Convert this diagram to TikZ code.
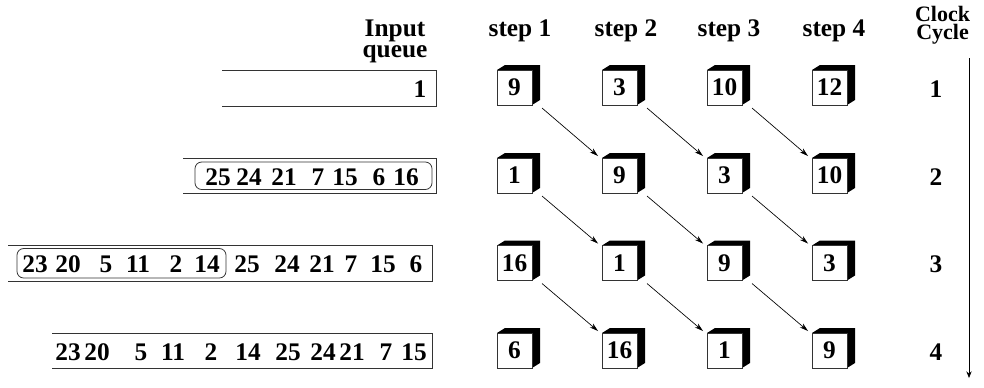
\documentclass[tikz,border=0pt]{standalone}
\usepackage{fontspec}
\setmainfont{Liberation Serif}
\usetikzlibrary{calc,arrows.meta}
\tikzset{
  txt/.style={font=\fontsize{19}{19}\selectfont\bfseries, inner sep=0pt, outer sep=0pt},
  headtxt/.style={font=\fontsize{19}{15.75}\selectfont\bfseries, align=center, inner sep=0pt, outer sep=0pt},
  smalltxt/.style={font=\fontsize{16.5}{13.5}\selectfont\bfseries, align=center, inner sep=0pt, outer sep=0pt},
  qline/.style={draw=black!80, line width=0.7pt},
  cubebox/.style={txt, draw=black!80, line width=0.6pt, fill=white, minimum width=26.25pt, minimum height=26.25pt},
  cubeline/.style={draw=black!80, line width=0.6pt},
  arr/.style={-{Stealth[length=6.5pt,width=3.8pt]}, line width=0.5pt},
}
\newcommand\mycube[4]{%
  \node[cubebox] (#1) at (#2,#3) {#4};
  \fill (#1.north west) -- ++(8,-5) -- ($(#1.north east)+(8,-5)$) -- ($(#1.south east)+(8,-5)$) -- (#1.south east) -- (#1.north east) -- cycle;
  \draw[cubeline] (#1.north west) rectangle (#1.south east);
}
\begin{document}
\begin{tikzpicture}[x=0.75pt,y=-0.75pt]
\useasboundingbox (0,0) rectangle (984,387);
% headers
\node[headtxt,anchor=north] (hin) at (395,20) {Input\\queue};
\node[txt,anchor=base] (s1) at (520,36) {step 1};
\node[txt,anchor=base] (s2) at (626,36) {step 2};
\node[txt,anchor=base] (s3) at (729,36) {step 3};
\node[txt,anchor=base] (s4) at (834,36) {step 4};
\node[smalltxt,anchor=north] (hc) at (942.5,6) {Clock\\Cycle};
% queue boxes
\draw[qline] (222,70.5) -- (436,70.5) -- (436,106) -- (222,106);
\draw[qline] (183,158) -- (436,158) -- (436,193) -- (183,193);
\draw[qline] (8,245.5) -- (432,245.5) -- (432,281) -- (8,281);
\draw[qline] (52,333) -- (432,333) -- (432,368) -- (52,368);
\draw[qline, line width=0.6pt, rounded corners=5pt] (195,162) rectangle (432,189.5);
\draw[qline, line width=0.6pt, rounded corners=5pt] (17,248.5) rectangle (226,278);
% queue contents
\node[txt,anchor=base] (qa1) at (420,97.5) {1};
\foreach \x/\t [count=\i] in {218/25,249/24,284/21,318/7,345/15,379/6,406/16}
  \node[txt,anchor=base] (qb\i) at (\x,185) {\t};
\foreach \x/\t [count=\i] in {35/23,68/20,106/5,138/11,176/2,207/14,247/25,287/24,322/21,351/7,383/15,416/6}
  \node[txt,anchor=base] (qc\i) at (\x,272) {\t};
\foreach \x/\t [count=\i] in {68/23,97/20,141/5,173/11,211/2,248/14,288/25,323/24,352/21,386/7,414/15}
  \node[txt,anchor=base] (qd\i) at (\x,360) {\t};
% cubes: name c<column><row>
\foreach \r/\y/\a/\b/\c/\d in {1/87.5/9/3/10/12, 2/175.5/1/9/3/10, 3/263/16/1/9/3, 4/350.5/6/16/1/9}{
  \mycube{c1\r}{514.5}{\y}{\a}
  \mycube{c2\r}{619.5}{\y}{\b}
  \mycube{c3\r}{724.5}{\y}{\c}
  \mycube{c4\r}{829.5}{\y}{\d}
}
% arrows
\foreach \s/\e in {c11/c22, c21/c32, c31/c42, c12/c23, c22/c33, c32/c43, c13/c24, c23/c34, c33/c44}
  \draw[arr] ($(\s.south east)+(10,3)$) -- ($(\e.north west)+(-4,-2)$);
% clock cycle
\foreach \y/\t [count=\i] in {97.5/1,185/2,272/3,360/4}
  \node[txt,anchor=base] (k\i) at (936,\y) {\t};
\coordinate (ktop) at (969,58);
\coordinate (kbot) at (969,378);
\draw[-{Stealth[length=5pt,width=4pt]}, line width=0.6pt] (ktop) -- (kbot);
\end{tikzpicture}
\end{document}
